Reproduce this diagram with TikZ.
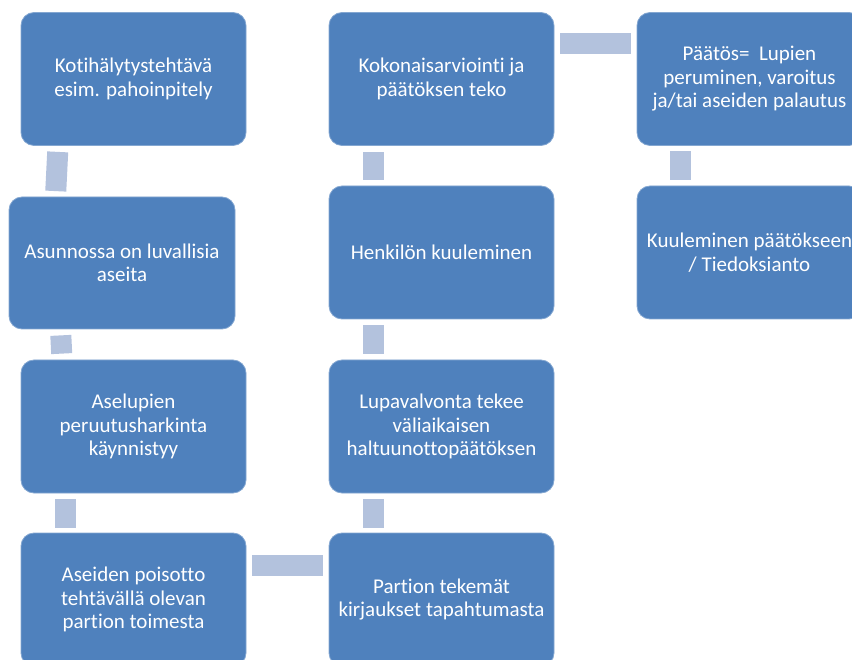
\documentclass[tikz,border=0pt]{standalone}
\usepackage{fontspec}
\setmainfont{Carlito}[Ligatures=NoCommon]
\definecolor{boxblue}{HTML}{4F81BD}
\definecolor{connblue}{HTML}{B3C2DD}
\begin{document}
\begin{tikzpicture}[x=1pt,y=-1pt,
  box/.style={rectangle, rounded corners=13pt, fill=boxblue, draw=white!30!boxblue, line width=0.8pt,
    minimum width=225pt, minimum height=133pt, inner sep=0pt, text=white, align=center,
    font=\fontsize{21}{23.5}\selectfont},
  conn/.style={draw=connblue, line width=21pt, line cap=butt}]
\useasboundingbox (0,0) rectangle (852,660);
\clip (0,0) rectangle (852,660);
\node[box] (b1) at (133.5,79) {Kotihälytystehtävä\\esim. pahoinpitely};
\node[box, minimum width=226pt, minimum height=132pt] (b2) at (122,263) {Asunnossa on luvallisia\\aseita};
\node[box] (b3) at (133.5,426.5) {Aselupien\\peruutusharkinta\\käynnistyy};
\node[box] (b4) at (133.5,599.5) {Aseiden poisotto\\tehtävällä olevan\\partion toimesta};
\node[box] (b5) at (441.5,599.5) {Partion tekemät\\kirjaukset tapahtumasta};
\node[box] (b6) at (441.5,426.5) {Lupavalvonta tekee\\väliaikaisen\\haltuunottopäätöksen};
\node[box] (b7) at (441.5,252.5) {Henkilön kuuleminen};
\node[box] (b8) at (441.5,79) {Kokonaisarviointi ja\\päätöksen teko};
\node[box] (b9) at (749.5,79) {Päätös=\ \ Lupien\\peruminen, varoitus\\ja/tai aseiden palautus};
\node[box] (b10) at (749.5,252.5) {Kuuleminen päätökseen\\/ Tiedoksianto};
\draw[conn, shorten <=6pt, shorten >=5.5pt] ([xshift=-75.5pt]b1.south) -- ([xshift=-66.5pt]b2.north);
\draw[conn, shorten <=6pt, shorten >=6pt] ([xshift=-61.5pt]b2.south) -- ([xshift=-71.5pt]b3.north);
\draw[conn, shorten <=6pt, shorten >=5pt] ([xshift=-68pt]b3.south) -- ([xshift=-68pt]b4.north);
\draw[conn, shorten <=6pt, shorten >=6pt] ([yshift=34pt]b4.east) -- ([yshift=34pt]b5.west);
\draw[conn, shorten <=5pt, shorten >=6pt] ([xshift=-68pt]b5.north) -- ([xshift=-68pt]b6.south);
\draw[conn, shorten <=6pt, shorten >=6pt] ([xshift=-68pt]b6.north) -- ([xshift=-68pt]b7.south);
\draw[conn, shorten <=6pt, shorten >=6.5pt] ([xshift=-68pt]b7.north) -- ([xshift=-68pt]b8.south);
\draw[conn, shorten <=6pt, shorten >=6pt] ([yshift=35.5pt]b8.east) -- ([yshift=35.5pt]b9.west);
\draw[conn, shorten <=5.5pt, shorten >=6pt] ([xshift=-69pt]b9.south) -- ([xshift=-69pt]b10.north);
\end{tikzpicture}
\end{document}
